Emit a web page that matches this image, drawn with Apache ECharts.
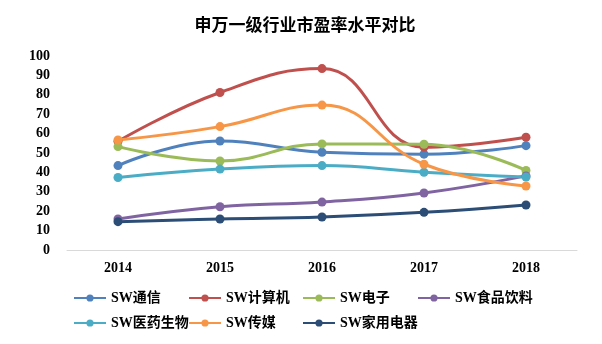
<!DOCTYPE html>
<html><head><meta charset="utf-8">
<script src="https://cdn.jsdelivr.net/npm/echarts@6/dist/echarts.min.js"></script>
<style>html,body{margin:0;padding:0;background:#fff}#c{width:602px;height:344px}</style>
</head><body><div id="c"></div>
<script>
var years = ['2014','2015','2016','2017','2018'];
var yTicks = [0,10,20,30,40,50,60,70,80,90,100];
var names = ['SW通信','SW计算机','SW电子','SW食品饮料','SW医药生物','SW传媒','SW家用电器'];
var sw_tongxin  = [43.5, 56.2, 50.4, 49.4, 53.8];
var sw_jisuanji = [56.0, 81.2, 93.5, 53.0, 58.1];
var sw_dianzi   = [53.3, 45.9, 54.7, 54.5, 41.0];
var sw_shipin   = [16.0, 22.3, 24.7, 29.4, 38.2];
var sw_yiyao    = [37.4, 41.7, 43.5, 40.1, 37.6];
var sw_chuanmei = [56.7, 63.6, 74.7, 44.2, 33.0];
var sw_jiadian  = [14.6, 16.0, 17.0, 19.4, 23.2];
var seriesData = [sw_tongxin, sw_jisuanji, sw_dianzi, sw_shipin, sw_yiyao, sw_chuanmei, sw_jiadian];
var colors = ['#4F81BD','#C0504D','#9BBB59','#8064A2','#4BACC6','#F79646','#2C4D75'];

var legendFont = {fontFamily:'Liberation Serif, "Noto Sans CJK SC"', fontWeight:'bold', fontSize:14, color:'#000'};
function mkLegend(left, items){
  return {orient:'vertical', left:left, top:291, padding:0, itemGap:11, itemWidth:32, itemHeight:9,
    data:items, textStyle:legendFont, selectedMode:false};
}
var chart = echarts.init(document.getElementById('c'));
chart.setOption({
  color: colors,
  animation:false,
  title:{text:'申万一级行业市盈率水平对比', left:300, textAlign:'center', top:11,
    textStyle:{fontFamily:'"Noto Sans CJK SC"', fontWeight:'bold', fontSize:17, color:'#000'}},
  legend:[
    mkLegend(73,[names[0],names[4]]),
    mkLegend(188,[names[1],names[5]]),
    mkLegend(302,[names[2],names[6]]),
    mkLegend(417,[names[3]])
  ],
  grid:{left:67, right:25, top:56, bottom:94, containLabel:false},
  xAxis:{type:'category', data:years, boundaryGap:true,
    axisLine:{lineStyle:{color:'#D9D9D9', width:1}}, axisTick:{show:false},
    axisLabel:{margin:11, fontFamily:'Liberation Serif', fontWeight:'bold', fontSize:14, color:'#000'}},
  yAxis:{type:'value', min:0, max:100, interval:10,
    axisLine:{show:false}, axisTick:{show:false}, splitLine:{show:false},
    axisLabel:{margin:17, fontFamily:'Liberation Serif', fontWeight:'bold', fontSize:14, color:'#000'}},
  series: names.map(function(n,i){
    return {name:n, type:'line', smooth:0.45, data:seriesData[i], symbol:'circle', symbolSize:9,
      lineStyle:{width:3, color:colors[i]}, itemStyle:{color:colors[i]}};
  })
});
</script></body></html>
